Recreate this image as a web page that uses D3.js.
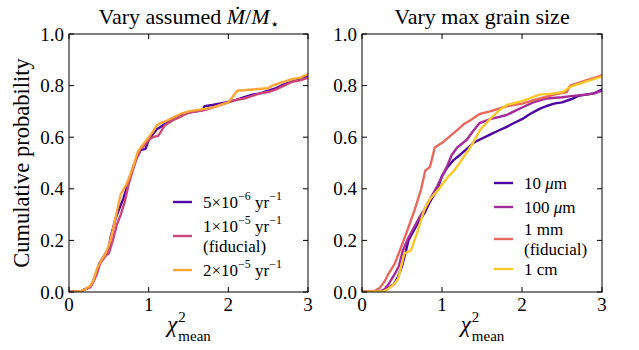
<!DOCTYPE html>
<html>
<head>
<meta charset="utf-8">
<script src="https://cdn.jsdelivr.net/npm/d3@7"></script>
<style>
body { margin: 0; background: #fff; }
</style>
</head>
<body>
<svg id="fig" width="639" height="350"></svg>
<script>
// tick values
var xTicks = [0, 1, 2, 3];
var yTicks = [0, 0.2, 0.4, 0.6, 0.8, 1.0];
var yTickLabels = ['0.0', '0.2', '0.4', '0.6', '0.8', '1.0'];

// left panel: vary accretion rate (chi2_mean, cumulative probability)
var mdotLabels = ['5×10^{−6} yr^{−1}', '1×10^{−5} yr^{−1}\n(fiducial)', '2×10^{−5} yr^{−1}'];
var mdotColors = ['#5302a3', '#cc4778', '#fca636'];
var mdotLow = [[0,0],[0.15,0.003],[0.2,0.01],[0.27,0.02],[0.3,0.04],[0.35,0.08],[0.38,0.11],[0.46,0.15],[0.5,0.17],[0.52,0.21],[0.59,0.29],[0.64,0.33],[0.68,0.36],[0.75,0.43],[0.8,0.48],[0.85,0.52],[0.9,0.55],[0.96,0.555],[1.0,0.59],[1.05,0.61],[1.1,0.63],[1.2,0.65],[1.3,0.67],[1.4,0.685],[1.5,0.695],[1.6,0.70],[1.68,0.705],[1.7,0.72],[1.8,0.725],[1.97,0.735],[2.1,0.745],[2.2,0.755],[2.3,0.765],[2.4,0.77],[2.5,0.78],[2.6,0.79],[2.7,0.805],[2.8,0.815],[2.9,0.825],[3.0,0.835],[3.05,0.84]];
var mdotFid = [[0,0],[0.15,0.003],[0.2,0.01],[0.27,0.02],[0.3,0.035],[0.35,0.07],[0.39,0.11],[0.46,0.14],[0.5,0.15],[0.55,0.2],[0.6,0.26],[0.65,0.3],[0.7,0.35],[0.75,0.42],[0.8,0.47],[0.85,0.52],[0.9,0.555],[0.95,0.57],[1.0,0.59],[1.05,0.60],[1.12,0.605],[1.15,0.62],[1.2,0.645],[1.3,0.665],[1.4,0.68],[1.5,0.695],[1.6,0.70],[1.7,0.705],[1.8,0.715],[1.9,0.725],[2.0,0.735],[2.1,0.745],[2.2,0.75],[2.3,0.76],[2.4,0.77],[2.5,0.775],[2.6,0.785],[2.7,0.80],[2.8,0.815],[2.9,0.82],[3.0,0.83],[3.05,0.835]];
var mdotHigh = [[0,0],[0.15,0.003],[0.2,0.01],[0.27,0.025],[0.3,0.04],[0.35,0.09],[0.4,0.12],[0.46,0.15],[0.5,0.18],[0.55,0.24],[0.6,0.31],[0.65,0.38],[0.71,0.41],[0.75,0.44],[0.8,0.48],[0.86,0.54],[0.9,0.56],[0.95,0.58],[1.0,0.60],[1.05,0.62],[1.1,0.645],[1.15,0.655],[1.2,0.66],[1.3,0.675],[1.4,0.69],[1.5,0.70],[1.6,0.705],[1.7,0.71],[1.8,0.715],[1.9,0.725],[2.0,0.735],[2.04,0.75],[2.11,0.78],[2.3,0.785],[2.5,0.79],[2.55,0.80],[2.7,0.815],[2.8,0.825],[2.9,0.83],[3.0,0.845],[3.05,0.85]];

// right panel: vary max grain size
var grainLabels = ['10 *μ*m', '100 *μ*m', '1 mm\n(fiducial)', '1 cm'];
var grainColors = ['#4c02a1', '#a52c98', '#e8695d', '#fcc829'];
var grain10um = [[0,0],[0.25,0.002],[0.3,0.01],[0.35,0.02],[0.4,0.03],[0.45,0.06],[0.5,0.10],[0.55,0.16],[0.58,0.20],[0.65,0.24],[0.72,0.28],[0.78,0.305],[0.85,0.35],[0.94,0.395],[1.0,0.45],[1.07,0.485],[1.14,0.51],[1.2,0.525],[1.31,0.555],[1.4,0.58],[1.5,0.595],[1.6,0.61],[1.7,0.625],[1.81,0.64],[1.9,0.655],[2.0,0.67],[2.1,0.69],[2.22,0.71],[2.3,0.72],[2.4,0.73],[2.5,0.735],[2.64,0.75],[2.7,0.76],[2.8,0.765],[2.9,0.77],[3.0,0.785],[3.05,0.79]];
var grain100um = [[0,0],[0.22,0.002],[0.28,0.01],[0.33,0.03],[0.41,0.07],[0.46,0.10],[0.51,0.16],[0.58,0.21],[0.65,0.25],[0.72,0.29],[0.78,0.32],[0.85,0.36],[0.94,0.41],[1.06,0.485],[1.12,0.53],[1.19,0.56],[1.31,0.59],[1.38,0.62],[1.47,0.655],[1.6,0.67],[1.8,0.685],[1.9,0.70],[2.0,0.715],[2.14,0.735],[2.3,0.75],[2.5,0.755],[2.64,0.76],[2.8,0.765],[2.9,0.77],[3.0,0.78],[3.05,0.785]];
var grain1mm = [[0,0],[0.16,0.005],[0.22,0.015],[0.28,0.04],[0.33,0.07],[0.41,0.11],[0.49,0.175],[0.58,0.25],[0.66,0.32],[0.74,0.40],[0.79,0.47],[0.85,0.485],[0.91,0.56],[1.01,0.58],[1.14,0.615],[1.2,0.63],[1.27,0.65],[1.35,0.665],[1.47,0.69],[1.6,0.70],[1.81,0.72],[2.0,0.73],[2.22,0.75],[2.4,0.765],[2.56,0.775],[2.6,0.80],[2.8,0.82],[3.0,0.84],[3.05,0.845]];
var grain1cm = [[0,0],[0.26,0.002],[0.32,0.01],[0.4,0.03],[0.45,0.05],[0.53,0.15],[0.61,0.16],[0.7,0.24],[0.78,0.32],[0.85,0.36],[0.95,0.395],[1.07,0.445],[1.15,0.47],[1.22,0.50],[1.35,0.56],[1.39,0.58],[1.48,0.63],[1.6,0.67],[1.7,0.70],[1.81,0.725],[2.0,0.74],[2.22,0.765],[2.4,0.77],[2.51,0.775],[2.6,0.795],[2.8,0.815],[3.0,0.835],[3.05,0.84]];

var panels = [
    { title: 'Vary assumed *Ṁ*/*M*_{⋆}', x0: 69, x1: 308, series: [mdotLow, mdotFid, mdotHigh],
      labels: mdotLabels, colors: mdotColors, legX: 173, legY: [202, 236, 270] },
    { title: 'Vary max grain size', x0: 362, x1: 602, series: [grain10um, grain100um, grain1mm, grain1cm],
      labels: grainLabels, colors: grainColors, legX: 494, legY: [183, 207, 239, 269] }
];

var plotTop = 34, plotBottom = 292, tickLen = 5;
var serif = '"Liberation Serif", "Times New Roman", serif';
var svg = d3.select('#fig');

// every text gets the font directly on itself
function label(parent, size) {
    var t = parent.append('text').attr('font-size', size).attr('fill', '#000');
    t.node().style.fontFamily = serif;
    return t;
}

// write simple markup: ^{..} superscript, _{..} subscript, *..* italic
function rich(text, str, size) {
    var re = /(\^\{[^}]*\}|_\{[^}]*\}|\*[^*]*\*)/;
    var parts = str.split(re).filter(function(s) { return s.length; });
    var shift = 0;
    parts.forEach(function(p) {
        var t = text.append('tspan');
        var target = 0, fs = size, content = p;
        if (p[0] === '^') { target = -size * 0.42; fs = size * 0.7; content = p.slice(2, -1); }
        else if (p[0] === '_') { target = size * 0.22; fs = size * 0.7; content = p.slice(2, -1); }
        else if (p[0] === '*') { content = p.slice(1, -1); t.attr('font-style', 'italic'); }
        t.attr('dy', target - shift).attr('font-size', fs).text(content);
        t.node().style.fontFamily = serif;
        shift = target;
    });
}

panels.forEach(function(pn, pi) {
    var x = d3.scaleLinear().domain([0, 3]).range([pn.x0, pn.x1]);
    var y = d3.scaleLinear().domain([0, 1]).range([plotBottom, plotTop]);
    var g = svg.append('g');

    g.append('clipPath').attr('id', 'clip' + pi)
        .append('rect').attr('x', pn.x0).attr('y', plotTop)
        .attr('width', pn.x1 - pn.x0).attr('height', plotBottom - plotTop);

    var line = d3.line().x(function(d) { return x(d[0]); }).y(function(d) { return y(d[1]); });
    g.append('g').attr('clip-path', 'url(#clip' + pi + ')')
        .selectAll('path').data(pn.series).enter().append('path')
        .attr('d', line)
        .attr('fill', 'none')
        .attr('stroke', function(d, i) { return pn.colors[i]; })
        .attr('stroke-width', 2.4)
        .attr('stroke-linejoin', 'round');

    // frame + inward ticks on all sides
    var ax = g.append('g').attr('stroke', '#000').attr('stroke-width', 1);
    ax.append('rect').attr('x', pn.x0).attr('y', plotTop)
        .attr('width', pn.x1 - pn.x0).attr('height', plotBottom - plotTop).attr('fill', 'none');
    xTicks.forEach(function(v) {
        ax.append('line').attr('x1', x(v)).attr('x2', x(v)).attr('y1', plotBottom).attr('y2', plotBottom - tickLen);
        ax.append('line').attr('x1', x(v)).attr('x2', x(v)).attr('y1', plotTop).attr('y2', plotTop + tickLen);
    });
    yTicks.forEach(function(v) {
        ax.append('line').attr('x1', pn.x0).attr('x2', pn.x0 + tickLen).attr('y1', y(v)).attr('y2', y(v));
        ax.append('line').attr('x1', pn.x1).attr('x2', pn.x1 - tickLen).attr('y1', y(v)).attr('y2', y(v));
    });

    xTicks.forEach(function(v) {
        label(g, 19).attr('x', x(v)).attr('y', 311).attr('text-anchor', 'middle').text(v);
    });
    yTicks.forEach(function(v, i) {
        label(g, 19).attr('x', pn.x0 - 5).attr('y', y(v) + 6.5)
            .attr('text-anchor', 'end').text(yTickLabels[i]);
    });

    var title = label(g, 22).attr('x', (pn.x0 + pn.x1) / 2).attr('y', 24)
        .attr('text-anchor', 'middle');
    rich(title, pn.title, 22);

    // x label: chi^2 with stacked "mean"
    var cx = (pn.x0 + pn.x1) / 2;
    var chi = label(g, 23).attr('y', 332).attr('font-style', 'italic').text('χ');
    var sup = label(g, 15).attr('y', 322).text('2');
    var sub = label(g, 15).attr('y', 341).text('mean');
    var wc = chi.node().getComputedTextLength(), ws = sub.node().getComputedTextLength();
    var left = cx - (wc + ws) / 2;
    chi.attr('x', left);
    sup.attr('x', left + wc + 1);
    sub.attr('x', left + wc + 1);

    // legend
    pn.labels.forEach(function(lab, i) {
        var ly = pn.legY[i];
        g.append('line').attr('x1', pn.legX).attr('x2', pn.legX + 19)
            .attr('y1', ly).attr('y2', ly)
            .attr('stroke', pn.colors[i]).attr('stroke-width', 2.4);
        var lines = lab.split('\n');
        lines.forEach(function(s, k) {
            var ty = ly + 5.5 - (lines.length - 1) * 10 + k * 20;
            var t = label(g, 17).attr('x', pn.legX + 30).attr('y', ty);
            rich(t, s, 17);
        });
    });
});

label(svg, 22.5)
    .attr('transform', 'translate(29,163) rotate(-90)')
    .attr('text-anchor', 'middle')
    .text('Cumulative probability');
</script>
</body>
</html>
